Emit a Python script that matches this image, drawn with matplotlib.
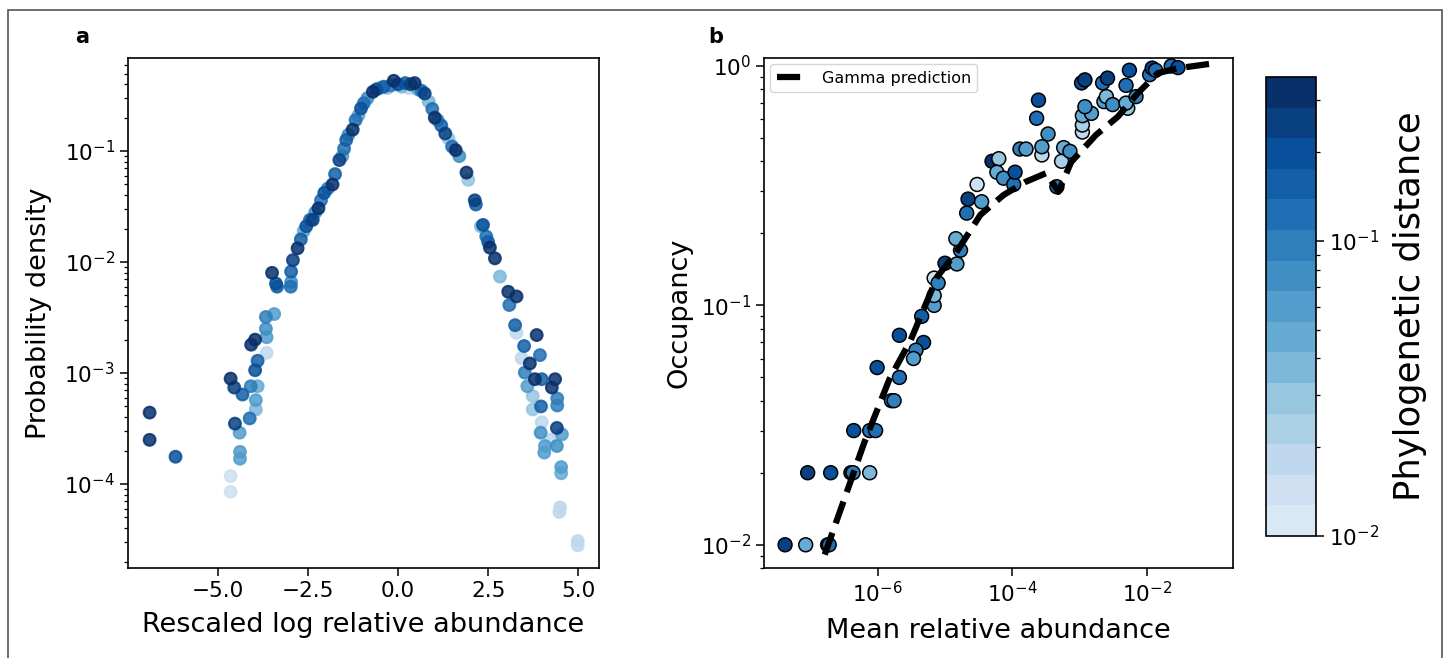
import matplotlib
matplotlib.use("Agg")
import matplotlib.pyplot as plt
import numpy as np
from matplotlib.colors import LogNorm, ListedColormap
from matplotlib.patches import Rectangle
from matplotlib.ticker import NullLocator

# panel a: rescaled log relative abundance histograms, one colour per distance
rescaled_x = [-2.79, -2.70, -2.62, -2.55, -2.45, -2.37, -2.30, -2.21, -2.14, -2.05,
              -1.95, -1.82, -1.75, -1.63, -1.55, -1.50, -1.44, -1.38, -1.26, -1.18,
              -1.10, -1.03, -0.95, -0.85, -0.70, -0.60, -0.50, -0.40, -0.30, -0.20,
              -0.12, 0.00, 0.10, 0.20, 0.30, 0.35, 0.46, 0.55, 0.65, 0.74,
              0.85, 0.95, 1.02, 1.10, 1.20, 1.31, 1.40, 1.50, 1.60, 1.70,
              1.90, 1.95, 2.13, 2.16, 2.30, 2.36, 2.45, 2.50, 2.55,
              -3.50, -3.39, -2.97, -2.97, -2.92, -2.98, -3.36, -3.44, -3.67, -3.67,
              -3.65, -3.97, -4.08, -3.65, -3.90, -3.97, -4.65, -4.55, -4.32, -4.09,
              -3.90, -3.95, -3.95, -4.12, -4.53, -4.40, -4.39, -4.39, -4.65, -4.65,
              -6.90, -6.90, -6.18,
              2.69, 2.83, 3.06, 3.29, 3.09, 3.25, 3.29, 3.85, 3.50, 3.94,
              3.43, 3.66, 3.52, 3.80, 3.99, 4.36, 4.27, 3.59, 4.42, 3.74,
              4.42, 3.97, 3.74, 3.99, 4.41, 4.55, 3.96, 4.22, 4.08, 4.41,
              4.06, 4.53, 4.53, 4.50, 4.48, 4.99, 4.99]
density_y = [0.0133, 0.016, 0.019, 0.021, 0.024, 0.024, 0.028, 0.0305, 0.036, 0.042,
             0.046, 0.050, 0.062, 0.083, 0.090, 0.105, 0.126, 0.14, 0.156, 0.19,
             0.21, 0.242, 0.27, 0.30, 0.342, 0.36, 0.37, 0.38, 0.37, 0.39,
             0.43, 0.40, 0.38, 0.41, 0.37, 0.40, 0.41, 0.36, 0.35, 0.33,
             0.28, 0.24, 0.20, 0.19, 0.17, 0.144, 0.13, 0.11, 0.102, 0.090,
             0.064, 0.055, 0.036, 0.033, 0.021, 0.0216, 0.017, 0.0152, 0.0135,
             0.0080, 0.0064, 0.0082, 0.0066, 0.0104, 0.0060, 0.0060, 0.0034, 0.0032, 0.0025,
             0.0021, 0.0020, 0.0018, 0.00152, 0.00129, 0.00106, 0.00089, 0.00074, 0.00064, 0.00076,
             0.00076, 0.00057, 0.00047, 0.00039, 0.00035, 0.00029, 0.000195, 0.000169, 0.000118, 0.000085,
             0.00044, 0.00025, 0.000176,
             0.0108, 0.0074, 0.0054, 0.0049, 0.0041, 0.0027, 0.0023, 0.0022, 0.00175, 0.00145,
             0.00136, 0.00122, 0.00101, 0.00088, 0.00088, 0.00088, 0.00074, 0.00076, 0.00059, 0.00062,
             0.00051, 0.00050, 0.00047, 0.00036, 0.00032, 0.00028, 0.00029, 0.00025, 0.00022, 0.00022,
             0.000192, 0.000142, 0.000125, 0.0000616, 0.0000559, 0.0000307, 0.0000280]
dist_a = [0.30, 0.15, 0.05, 0.20, 0.12, 0.25, 0.08, 0.30, 0.12, 0.20,
          0.10, 0.30, 0.15, 0.25, 0.06, 0.12, 0.15, 0.08, 0.30, 0.12,
          0.05, 0.20, 0.12, 0.08, 0.30, 0.20, 0.05, 0.15, 0.03, 0.10,
          0.30, 0.20, 0.04, 0.15, 0.02, 0.25, 0.30, 0.05, 0.12, 0.25,
          0.04, 0.12, 0.30, 0.08, 0.15, 0.25, 0.03, 0.12, 0.30, 0.08,
          0.30, 0.03, 0.25, 0.15, 0.04, 0.20, 0.12, 0.15, 0.30,
          0.30, 0.20, 0.15, 0.08, 0.25, 0.12, 0.15, 0.06, 0.10, 0.08,
          0.06, 0.30, 0.30, 0.02, 0.15, 0.20, 0.30, 0.25, 0.15, 0.10,
          0.05, 0.06, 0.04, 0.12, 0.25, 0.06, 0.06, 0.06, 0.015, 0.015,
          0.30, 0.30, 0.20,
          0.30, 0.04, 0.30, 0.30, 0.12, 0.15, 0.02, 0.30, 0.15, 0.12,
          0.02, 0.30, 0.10, 0.30, 0.15, 0.30, 0.30, 0.06, 0.10, 0.03,
          0.10, 0.15, 0.03, 0.02, 0.25, 0.06, 0.08, 0.02, 0.06, 0.08,
          0.06, 0.06, 0.05, 0.02, 0.02, 0.02, 0.02]

# panel b: occupancy vs mean relative abundance
mean_abund = [4.2e-8, 8.5e-8, 1.8e-7, 1.9e-7,
              9.1e-8, 2.0e-7, 4.0e-7, 4.3e-7, 7.6e-7,
              4.4e-7, 7.6e-7, 9.3e-7,
              9.8e-7, 2.1e-6, 1.6e-6, 1.75e-6, 2.1e-6, 4.8e-6, 3.7e-6, 3.4e-6,
              4.5e-6, 6.9e-6, 6.9e-6, 6.9e-6, 7.9e-6, 1.0e-5, 1.5e-5, 1.7e-5, 1.45e-5,
              2.1e-5, 2.2e-5, 3.5e-5, 3.0e-5, 5.0e-5, 6.3e-5, 5.9e-5, 7.4e-5, 1.05e-4,
              1.1e-4, 1.3e-4, 1.6e-4, 2.3e-4, 2.45e-4, 2.75e-4, 2.75e-4, 3.4e-4, 4.6e-4,
              5.4e-4, 5.8e-4, 7.2e-4, 1.1e-3, 1.1e-3, 1.1e-3, 1.5e-3, 1.2e-3, 1.07e-3,
              1.2e-3, 2.3e-3, 2.5e-3, 3.1e-3, 2.2e-3, 2.6e-3, 5.2e-3, 4.9e-3, 6.9e-3,
              4.9e-3, 5.5e-3, 1.1e-2, 1.2e-2, 1.35e-2, 2.3e-2, 2.9e-2]
occupancy = [0.01, 0.01, 0.01, 0.01,
             0.02, 0.02, 0.02, 0.02, 0.02,
             0.03, 0.03, 0.03,
             0.055, 0.05, 0.04, 0.04, 0.075, 0.07, 0.065, 0.06,
             0.09, 0.10, 0.11, 0.13, 0.124, 0.15, 0.149, 0.17, 0.19,
             0.243, 0.278, 0.271, 0.32, 0.40, 0.41, 0.36, 0.34, 0.32,
             0.36, 0.45, 0.45, 0.605, 0.72, 0.425, 0.46, 0.52, 0.313,
             0.40, 0.456, 0.44, 0.53, 0.567, 0.62, 0.634, 0.676, 0.85,
             0.875, 0.71, 0.745, 0.69, 0.85, 0.89, 0.666, 0.70, 0.745,
             0.83, 0.96, 0.92, 0.98, 0.96, 1.0, 0.985]
dist_b = [0.25, 0.05, 0.30, 0.12,
          0.28, 0.20, 0.30, 0.10, 0.04,
          0.20, 0.12, 0.12,
          0.20, 0.12, 0.10, 0.10, 0.20, 0.20, 0.10, 0.06,
          0.15, 0.06, 0.04, 0.015, 0.10, 0.28, 0.06, 0.10, 0.05,
          0.12, 0.25, 0.06, 0.015, 0.30, 0.03, 0.05, 0.08, 0.12,
          0.22, 0.10, 0.06, 0.12, 0.20, 0.02, 0.06, 0.08, 0.12,
          0.025, 0.05, 0.08, 0.02, 0.025, 0.05, 0.06, 0.07, 0.22,
          0.25, 0.06, 0.04, 0.07, 0.12, 0.25, 0.03, 0.05, 0.09,
          0.12, 0.22, 0.12, 0.25, 0.12, 0.12, 0.22]

gamma_x = [1.63e-7, 6.3e-7, 1.48e-6, 3.1e-6, 7.7e-6, 1.44e-5, 3.36e-5, 7.4e-5, 1.57e-4,
           3.2e-4, 4.85e-4, 7.5e-4, 1.75e-3, 3.7e-3, 7.3e-3, 1.45e-2, 2.86e-2, 8.4e-2]
gamma_y = [0.0091, 0.0267, 0.0489, 0.0718, 0.132, 0.165, 0.239, 0.289, 0.328,
           0.357, 0.298, 0.397, 0.515, 0.614, 0.769, 0.933, 0.978, 1.02]

cmap = ListedColormap(plt.cm.Blues(np.linspace(0.15, 1.0, 15)))
norm = LogNorm(vmin=0.01, vmax=0.36)

W, H = 1448, 658
fig = plt.figure(figsize=(W / 100, H / 100), dpi=100)

def px_axes(left, top, right, bottom):
    return fig.add_axes([left / W, 1 - bottom / H, (right - left) / W, (bottom - top) / H])

ax1 = px_axes(128, 58, 599, 568)
ax2 = px_axes(764, 58, 1233, 568)
cax = px_axes(1266, 77, 1316, 536)

# panel a, dark points drawn last
order = np.argsort(dist_a)
xa = np.array(rescaled_x)[order]
ya = np.array(density_y)[order]
da = np.array(dist_a)[order]
ax1.scatter(xa, ya, c=da, cmap=cmap, norm=norm, s=72, alpha=0.85, linewidths=1.5)
ax1.set_yscale("log")
ax1.set_xlim(-7.5, 5.58)
ax1.set_ylim(1.75e-5, 0.69)
ax1.set_xticks([-5.0, -2.5, 0.0, 2.5, 5.0])
ax1.set_xlabel("Rescaled log relative abundance", fontsize=19.5, labelpad=8)
ax1.set_ylabel("Probability density", fontsize=19.5, labelpad=9)

# panel b
ax2.plot(gamma_x, gamma_y, "k--", lw=4.5, label="Gamma prediction", zorder=3)
ax2.scatter(mean_abund, occupancy, c=dist_b, cmap=cmap, norm=norm, s=100,
            edgecolors="k", linewidths=1.1, zorder=2)
ax2.set_xscale("log")
ax2.set_yscale("log")
ax2.set_xlim(10 ** -7.69, 10 ** -0.72)
ax2.set_ylim(0.008, 1.08)
ax2.set_xticks([1e-6, 1e-4, 1e-2])
ax2.xaxis.set_minor_locator(NullLocator())
ax2.set_xlabel("Mean relative abundance", fontsize=19.5, labelpad=8)
ax2.set_ylabel("Occupancy", fontsize=19.5, labelpad=6)
ax2.legend(loc="upper left", fontsize=11.5, handlelength=2.0, borderaxespad=0.4)

for ax in (ax1, ax2):
    ax.tick_params(which="major", labelsize=15.5, length=6, width=1.1)
    ax.tick_params(which="minor", length=3.2, width=0.9)
    for sp in ax.spines.values():
        sp.set_linewidth(1.2)

cb = fig.colorbar(plt.cm.ScalarMappable(norm=norm, cmap=cmap), cax=cax)
cb.set_label("Phylogenetic distance", fontsize=25.5, labelpad=10)
cb.ax.tick_params(which="major", labelsize=15.5, length=6, width=1.1)
cb.ax.tick_params(which="minor", length=3.2, width=0.9)
cb.outline.set_linewidth(1.2)

fig.text(82 / W, 1 - 37 / H, "a", fontsize=15, fontweight="bold", ha="center", va="center")
fig.text(716 / W, 1 - 37 / H, "b", fontsize=15, fontweight="bold", ha="center", va="center")

# outer frame of the figure box
fig.patches.append(Rectangle((8 / W, -0.02), 1434 / W, 1.02 - 10 / H, transform=fig.transFigure,
                             fill=False, edgecolor="#555555", linewidth=1.2))

fig.savefig("out.png", dpi=100)
